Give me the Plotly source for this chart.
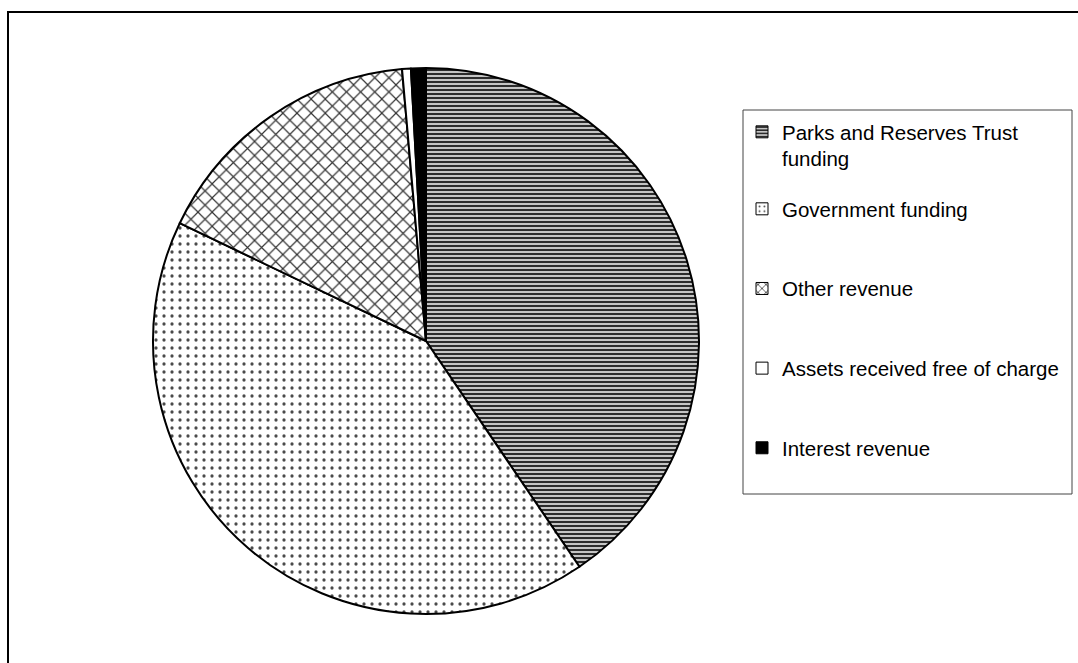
import plotly.graph_objects as go

# Revenue sources (share of total revenue, %)
categories = [
    "Parks and Reserves Trust<br>funding",
    "Government funding",
    "Other revenue",
    "Assets received free of charge",
    "Interest revenue",
]
shares = [40.5, 41.6, 16.5, 0.52, 0.88]

# Fill style per slice
fill_colors = ["#c4c4c4", "white", "white", "white", "black"]
pattern_shapes = ["-", ".", "x", "", ""]
pattern_fg = ["#1a1a1a", "#4a4a4a", "#333333", "black", "black"]
pattern_size = [4, 8, 10, 8, 8]
pattern_solidity = [0.45, 0.13, 0.22, 0.3, 0.3]

W, H = 1078, 663
FONT = "Liberation Sans, Arial, sans-serif"

fig = go.Figure()

fig.add_trace(go.Pie(
    labels=categories,
    values=shares,
    sort=False,
    direction="clockwise",
    rotation=0,
    textinfo="none",
    hoverinfo="skip",
    showlegend=False,
    domain=dict(x=[153 / W, 699 / W], y=[1 - 614 / H, 1 - 68 / H]),
    marker=dict(
        colors=fill_colors,
        line=dict(color="black", width=2),
        pattern=dict(
            shape=pattern_shapes,
            fgcolor=pattern_fg,
            bgcolor=fill_colors,
            size=pattern_size,
            solidity=pattern_solidity,
            fillmode="replace",
        ),
    ),
))

# Legend entries: one empty bar per category so every key carries its fill pattern
legend_size = [4, 6, 7, 8, 8]
legend_solidity = [0.45, 0.12, 0.25, 0.3, 0.3]
for i, name in enumerate(categories):
    fig.add_trace(go.Bar(
        x=[None], y=[None],
        name=name,
        legendgroup=f"g{i}",
        legend="legend" if i == 0 else "legend2",
        marker=dict(
            color=fill_colors[i],
            line=dict(color="black", width=1),
            pattern=dict(
                shape=pattern_shapes[i],
                fgcolor=pattern_fg[i],
                bgcolor=fill_colors[i],
                size=legend_size[i],
                solidity=legend_solidity[i],
                fillmode="replace",
            ),
        ),
        hoverinfo="skip",
    ))

legend_common = dict(
    font=dict(family=FONT, size=20.5, color="black"),
    bgcolor="rgba(0,0,0,0)",
    borderwidth=0,
    xanchor="left",
    yanchor="top",
    itemclick=False,
    itemdoubleclick=False,
)

fig.update_layout(
    width=W,
    height=H,
    margin=dict(l=0, r=0, t=0, b=0),
    paper_bgcolor="white",
    plot_bgcolor="white",
    xaxis=dict(visible=False),
    yaxis=dict(visible=False),
    legend=dict(x=742 / W, y=1 - 112 / H, valign="top", **legend_common),
    legend2=dict(x=742 / W, y=1 - 189 / H, tracegroupgap=50, **legend_common),
    shapes=[
        # outer chart frame
        dict(type="rect", xref="paper", yref="paper",
             x0=8 / W, y0=-0.2, x1=1.2, y1=1 - 12 / H,
             line=dict(color="black", width=2), fillcolor="rgba(0,0,0,0)"),
        # legend frame
        dict(type="rect", xref="paper", yref="paper",
             x0=743 / W, y0=1 - 494 / H, x1=1072 / W, y1=1 - 110 / H,
             line=dict(color="#444444", width=1), fillcolor="rgba(0,0,0,0)"),
    ],
)

fig.write_html("out.html")
